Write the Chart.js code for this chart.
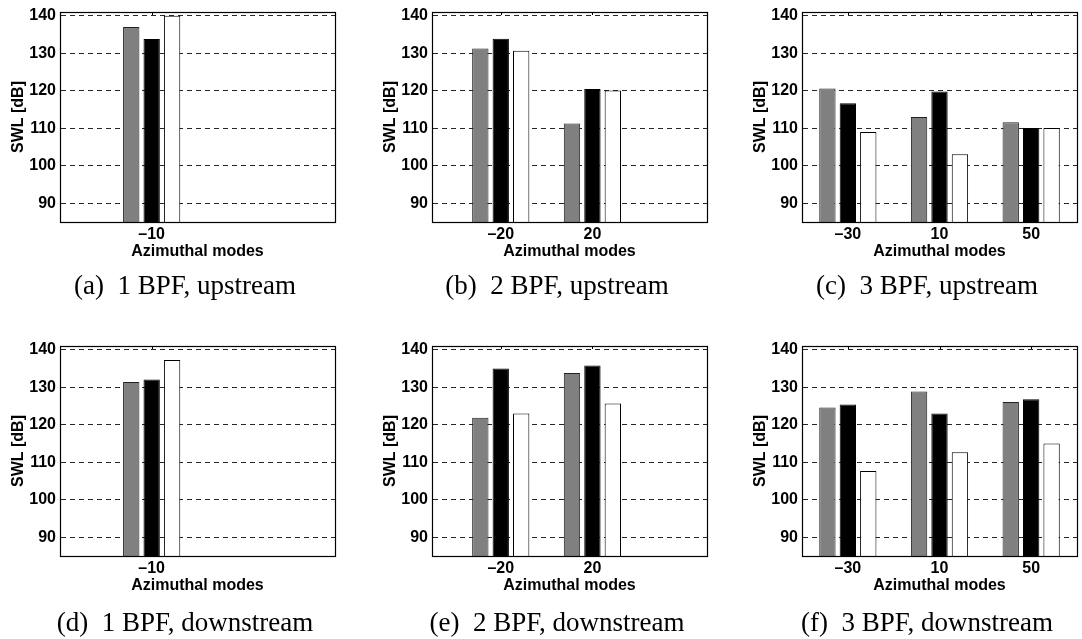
<!DOCTYPE html>
<html>
<head>
<meta charset="utf-8">
<script src="https://cdn.jsdelivr.net/npm/chart.js@4.4.1/dist/chart.umd.min.js"></script>
<style>
  body { margin: 0; background: #fff; width: 1082px; height: 639px; position: relative; overflow: hidden; }
  .panel { position: absolute; }
  canvas { display: block; }
  .cap { position: absolute; width: 340px; text-align: center; white-space: pre;
         font: 27px/30px "Liberation Serif", "Times New Roman", serif; color: #000; }
</style>
</head>
<body>
<script>
// x positions of the category slots (xlim -50..70), y ticks
const xPositions = [-50, -40, -30, -20, -10, 0, 10, 20, 30, 40, 50, 60, 70];
const yTicks = [90, 100, 110, 120, 130, 140];

// azimuthal modes per BPF
const modes1BPF = [-10];
const modes2BPF = [-20, 20];
const modes3BPF = [-30, 10, 50];

// SWL [dB], upstream
const up1Gray = [137.0];
const up1Black = [133.8];
const up1White = [140.0];
const up2Gray = [131.3, 111.3];
const up2Black = [133.9, 120.5];
const up2White = [130.7, 120.1];
const up3Gray = [120.6, 113.0, 111.6];
const up3Black = [116.7, 119.8, 110.1];
const up3White = [109.0, 103.1, 110.1];

// SWL [dB], downstream
const down1Gray = [131.4];
const down1Black = [132.1];
const down1White = [137.3];
const down2Gray = [121.9, 133.8];
const down2Black = [135.0, 135.8];
const down2White = [123.0, 125.7];
const down3Gray = [124.6, 128.9, 126.1];
const down3Black = [125.4, 123.0, 126.8];
const down3White = [107.7, 112.7, 115.0];

const panels = [
  { modes: modes1BPF, gray: up1Gray, black: up1Black, white: up1White, caption: "(a)  1 BPF, upstream", col: 0, row: 0 },
  { modes: modes2BPF, gray: up2Gray, black: up2Black, white: up2White, caption: "(b)  2 BPF, upstream", col: 1, row: 0 },
  { modes: modes3BPF, gray: up3Gray, black: up3Black, white: up3White, caption: "(c)  3 BPF, upstream", col: 2, row: 0 },
  { modes: modes1BPF, gray: down1Gray, black: down1Black, white: down1White, caption: "(d)  1 BPF, downstream", col: 0, row: 1 },
  { modes: modes2BPF, gray: down2Gray, black: down2Black, white: down2White, caption: "(e)  2 BPF, downstream", col: 1, row: 1 },
  { modes: modes3BPF, gray: down3Gray, black: down3Black, white: down3White, caption: "(f)  3 BPF, downstream", col: 2, row: 1 },
];

const colLeft = [0, 372, 742];
const rowTop = [0, 334];
const capTop = [270, 607];
const labels = xPositions.map(String);

function fmt(v) {
  return v < 0 ? "\u2013" + Math.abs(v) : String(v);
}

// box around the plot area, plus the small inward ticks on top
const framePlugin = {
  id: "frame",
  afterDatasetsDraw(chart, args, opts) {
    const { ctx, chartArea: a } = chart;
    const xs = chart.scales.x;
    ctx.save();
    ctx.strokeStyle = "#000";
    ctx.lineWidth = 1.2;
    ctx.strokeRect(a.left + 0.5, a.top + 0.5, a.right - a.left, a.bottom - a.top);
    ctx.lineWidth = 1;
    ctx.beginPath();
    opts.modes.forEach((m) => {
      const px = Math.round(xs.getPixelForValue(xPositions.indexOf(m))) + 0.5;
      ctx.moveTo(px, a.top);
      ctx.lineTo(px, a.top + 3);
    });
    ctx.stroke();
    ctx.restore();
  },
};

function series(modes, values, fill, border) {
  return {
    data: modes.map((m, i) => ({ x: String(m), y: values[i] })),
    backgroundColor: fill,
    borderColor: border,
    borderWidth: 1,
    categoryPercentage: 2.674,
    barPercentage: 0.8,
  };
}

panels.forEach(function (p) {
  const wrap = document.createElement("div");
  wrap.className = "panel";
  wrap.style.left = colLeft[p.col] + "px";
  wrap.style.top = rowTop[p.row] + "px";
  const canvas = document.createElement("canvas");
  canvas.width = 340;
  canvas.height = 300;
  wrap.appendChild(canvas);
  document.body.appendChild(wrap);

  const cap = document.createElement("div");
  cap.className = "cap";
  cap.textContent = p.caption;
  cap.style.left = colLeft[p.col] + 15 + "px";
  cap.style.top = capTop[p.row] + "px";
  document.body.appendChild(cap);

  new Chart(canvas.getContext("2d"), {
    type: "bar",
    data: {
      labels: labels,
      datasets: [
        series(p.modes, p.gray, "#808080", "#222"),
        series(p.modes, p.black, "#000", "#000"),
        series(p.modes, p.white, "#fff", "#000"),
      ],
    },
    options: {
      responsive: false,
      animation: false,
      events: [],
      layout: { padding: { left: 0, right: 4, top: 8, bottom: 0 } },
      plugins: {
        legend: { display: false },
        tooltip: { enabled: false },
        frame: { modes: p.modes },
      },
      scales: {
        x: {
          type: "category",
          offset: false,
          grid: { display: false, offset: false, drawTicks: false },
          border: { display: true, color: "#000" },
          afterFit: (s) => { s.height = 78; },
          ticks: {
            autoSkip: false,
            maxRotation: 0,
            padding: 5,
            color: "#000",
            font: { family: "Liberation Sans", weight: "bold", size: 16, lineHeight: 1 },
            callback: function (value, index) {
              const v = xPositions[index];
              return p.modes.includes(v) ? fmt(v) : "";
            },
          },
          title: {
            display: true,
            text: "Azimuthal modes",
            color: "#000",
            padding: { top: 0, bottom: 39 },
            font: { family: "Liberation Sans", weight: "bold", size: 16, lineHeight: 1.2 },
          },
        },
        y: {
          min: 85,
          max: 141,
          afterBuildTicks: (s) => { s.ticks = yTicks.map((v) => ({ value: v })); },
          afterFit: (s) => { s.width = 60; },
          grid: { color: "rgba(0,0,0,0.85)", lineWidth: 1, drawTicks: false },
          border: { display: true, color: "#000", dash: [5, 4] },
          ticks: {
            padding: 4,
            color: "#000",
            font: { family: "Liberation Sans", weight: "bold", size: 16, lineHeight: 1 },
          },
          title: {
            display: true,
            text: "SWL [dB]",
            color: "#000",
            padding: { top: 8.5, bottom: 0 },
            font: { family: "Liberation Sans", weight: "bold", size: 16, lineHeight: 1.2 },
          },
        },
      },
    },
    plugins: [framePlugin],
  });
});
</script>
</body>
</html>
